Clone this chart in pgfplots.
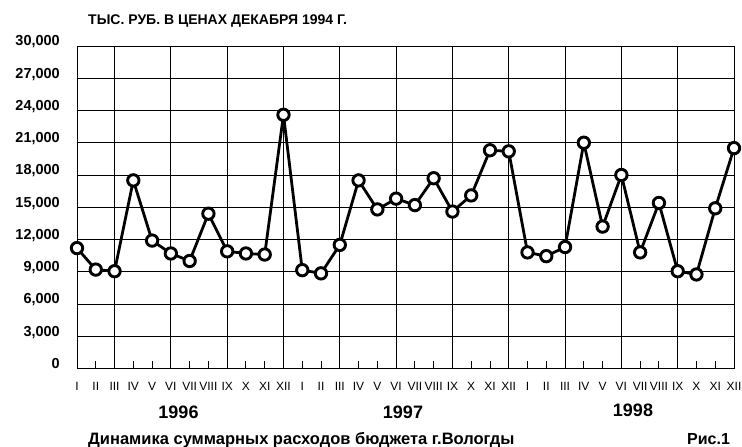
\documentclass[border=0pt]{standalone}
\usepackage{pgfplots}
\pgfplotsset{compat=1.18}
\usepackage{fontspec}
\setmainfont{Liberation Sans}
\begin{document}
\begin{tikzpicture}
\begin{axis}[
  scale only axis,
  width=657pt, height=322.5pt,
  xmin=0, xmax=35, ymin=0, ymax=30000,
  clip=false,
  axis line style={black, line width=0.9pt},
  xtick={0,...,35},
  xticklabels={I,II,III,IV,V,VI,VII,VIII,IX,X,XI,XII,I,II,III,IV,V,VI,VII,VIII,IX,X,XI,XII,I,II,III,IV,V,VI,VII,VIII,IX,X,XI,XII},
  xtick pos=left,
  tick align=inside,
  major tick length=7pt,
  x tick style={black, line width=0.9pt},
  xticklabel style={font=\fontsize{12}{12}\selectfont, anchor=base, inner sep=0pt, yshift=-21.8pt},
  extra x ticks={2,5,8,11,14,17,20,23,26,29,32},
  extra x tick labels={},
  extra x tick style={grid=major, major tick length=0pt},
  ytick={0,3000,...,30000},
  ytick style={draw=none},
  ymajorgrids,
  major grid style={black, line width=0.9pt},
  scaled y ticks=false,
  yticklabel style={font=\bfseries\fontsize{14.5}{14.5}\selectfont, anchor=base east, inner sep=0pt, xshift=-17pt},
  /pgf/number format/.cd, fixed, 1000 sep={,}, assume math mode=true,
]
\addplot[black, line width=2.8pt, mark=*, mark size=5.7pt,
  mark options={fill=white, draw=black, line width=2.9pt}]
coordinates {
(0,11200) (1,9200) (2,9050) (3,17500) (4,11900) (5,10700) (6,10000) (7,14400)
(8,10900) (9,10700) (10,10600) (11,23600) (12,9150) (13,8850) (14,11500) (15,17500)
(16,14800) (17,15800) (18,15200) (19,17700) (20,14600) (21,16100) (22,20300) (23,20200)
(24,10800) (25,10450) (26,11300) (27,21000) (28,13200) (29,18000) (30,10800) (31,15400)
(32,9050) (33,8750) (34,14900) (35,20500)
};
\end{axis}
\node[anchor=base west, inner sep=0pt, font=\bfseries\fontsize{14}{14}\selectfont] at (11pt,343.5pt) {ТЫС. РУБ. В ЦЕНАХ ДЕКАБРЯ 1994 Г.};
\node[anchor=base, inner sep=0pt, font=\bfseries\fontsize{18}{18}\selectfont] at (101.5pt,-50.5pt) {1996};
\node[anchor=base, inner sep=0pt, font=\bfseries\fontsize{18}{18}\selectfont] at (326pt,-50.5pt) {1997};
\node[anchor=base, inner sep=0pt, font=\bfseries\fontsize{18}{18}\selectfont] at (556pt,-48pt) {1998};
\node[anchor=base west, inner sep=0pt, font=\bfseries\fontsize{16.5}{16.5}\selectfont] at (11pt,-76.2pt) {Динамика суммарных расходов бюджета г.Вологды};
\node[anchor=base west, inner sep=0pt, font=\bfseries\fontsize{16}{16}\selectfont] at (610pt,-76.2pt) {Рис.1};
\pgfresetboundingbox
\path (-77pt,-78.5pt) rectangle (665pt,368.5pt);
\end{tikzpicture}
\end{document}
